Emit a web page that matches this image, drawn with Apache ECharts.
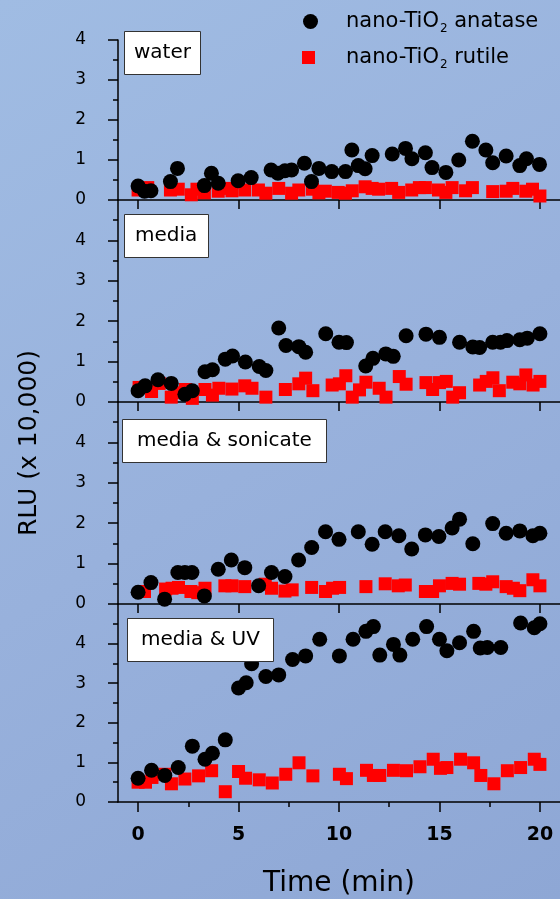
<!DOCTYPE html>
<html>
  <head>
    <meta charset="UTF-8" />
    <title>RLU vs time</title>
    <style>
      html,
      body {
        margin: 0;
        padding: 0;
        width: 100%;
        height: 100%;
        overflow: hidden;
      }
      #main {
        width: 560px;
        height: 899px;
      }
    </style>
    <script src="https://cdn.jsdelivr.net/npm/echarts@6/dist/echarts.min.js"></script>
  </head>
  <body>
    <div id="main"></div>
    <script>
      // panel names, top to bottom
      var panels = ["water", "media", "media & sonicate", "media & UV"];
      var yMax = [4, 5, 5, 5];
      var xTicks = [0, 5, 10, 15, 20];

      // [time (min), RLU x 10,000]
      var waterAnatase = [[0,0.35],[0.32,0.22],[0.64,0.23],[1.61,0.46],[1.96,0.79],[3.3,0.36],[3.65,0.67],[3.99,0.42],[4.98,0.48],[5.63,0.56],[6.62,0.75],[6.96,0.67],[7.31,0.73],[7.64,0.75],[8.28,0.92],[8.63,0.46],[9.0,0.79],[9.64,0.71],[10.32,0.71],[10.64,1.25],[10.96,0.86],[11.3,0.78],[11.65,1.11],[12.65,1.15],[13.31,1.29],[13.63,1.03],[14.3,1.18],[14.63,0.81],[15.32,0.69],[15.96,1.0],[16.64,1.47],[17.31,1.25],[17.65,0.93],[18.32,1.1],[19.0,0.86],[19.33,1.03],[19.98,0.89]];
      var waterRutile = [[0,0.25],[0.48,0.31],[1.61,0.25],[2.0,0.27],[2.65,0.13],[2.93,0.27],[3.3,0.18],[3.99,0.22],[4.35,0.29],[4.67,0.23],[5.31,0.25],[5.99,0.25],[6.36,0.17],[7.0,0.29],[7.64,0.17],[8.0,0.25],[8.68,0.27],[9.0,0.18],[9.32,0.22],[9.96,0.19],[10.32,0.17],[10.66,0.23],[11.3,0.33],[11.65,0.29],[11.97,0.27],[12.62,0.29],[12.97,0.19],[13.62,0.25],[14.0,0.31],[14.3,0.31],[14.95,0.25],[15.32,0.19],[15.63,0.31],[16.3,0.23],[16.64,0.31],[17.65,0.21],[18.32,0.22],[18.65,0.29],[19.3,0.22],[19.63,0.27],[20.0,0.1]];

      var mediaAnatase = [[0,0.28],[0.35,0.4],[0.99,0.55],[1.65,0.46],[2.33,0.19],[2.7,0.28],[3.33,0.75],[3.7,0.8],[4.34,1.06],[4.7,1.14],[5.34,0.99],[6.03,0.88],[6.36,0.78],[7.0,1.83],[7.36,1.4],[8.0,1.37],[8.34,1.23],[9.34,1.69],[10.0,1.48],[10.37,1.47],[11.33,0.89],[11.69,1.08],[12.33,1.19],[12.7,1.13],[13.34,1.64],[14.33,1.68],[15.0,1.6],[16.0,1.48],[16.66,1.36],[17.0,1.35],[17.65,1.48],[18.04,1.48],[18.36,1.52],[19.0,1.54],[19.37,1.58],[20.0,1.69]];
      var mediaRutile = [[0.05,0.36],[0.67,0.26],[1.05,0.46],[1.65,0.12],[1.97,0.23],[2.36,0.31],[2.7,0.09],[3.33,0.31],[3.7,0.17],[4.02,0.34],[4.67,0.32],[5.31,0.4],[5.67,0.34],[6.36,0.12],[7.33,0.31],[8.0,0.45],[8.34,0.59],[8.7,0.28],[9.66,0.42],[10.02,0.45],[10.34,0.65],[10.66,0.12],[11.02,0.3],[11.34,0.49],[12.0,0.34],[12.34,0.12],[13.0,0.63],[13.34,0.44],[14.33,0.48],[14.66,0.31],[15.0,0.48],[15.34,0.51],[15.66,0.12],[16.0,0.23],[17.0,0.42],[17.33,0.51],[17.66,0.6],[17.98,0.28],[18.65,0.49],[19.0,0.45],[19.3,0.67],[19.66,0.42],[20.0,0.51]];

      var sonicAnatase = [[0,0.29],[0.64,0.53],[1.32,0.12],[1.98,0.78],[2.33,0.78],[2.68,0.78],[3.3,0.2],[3.99,0.86],[4.64,1.09],[5.31,0.9],[6.0,0.45],[6.64,0.78],[7.31,0.68],[7.99,1.09],[8.64,1.4],[9.33,1.79],[10.0,1.6],[10.96,1.79],[11.65,1.48],[12.3,1.79],[12.98,1.69],[13.62,1.36],[14.3,1.71],[14.97,1.67],[15.63,1.88],[16.0,2.1],[16.66,1.49],[17.65,1.99],[18.32,1.75],[19.0,1.81],[19.65,1.69],[20.0,1.75]];
      var sonicRutile = [[0.32,0.31],[1.37,0.37],[1.69,0.39],[2.01,0.41],[2.63,0.31],[2.97,0.28],[3.33,0.39],[4.32,0.45],[4.67,0.45],[5.31,0.43],[6.33,0.49],[6.64,0.39],[7.31,0.32],[7.67,0.35],[8.64,0.41],[9.33,0.31],[9.68,0.39],[10.03,0.41],[11.34,0.43],[12.3,0.5],[12.95,0.45],[13.3,0.47],[14.3,0.31],[14.66,0.31],[15.0,0.45],[15.63,0.51],[16.0,0.49],[16.96,0.51],[17.31,0.49],[17.65,0.55],[18.32,0.43],[18.68,0.39],[19.0,0.33],[19.65,0.6],[20.0,0.45]];

      var uvAnatase = [[0,0.6],[0.67,0.8],[1.33,0.67],[2.0,0.87],[2.7,1.41],[3.33,1.08],[3.7,1.23],[4.34,1.57],[5.0,2.88],[5.38,3.01],[5.65,3.49],[6.36,3.17],[7.0,3.21],[7.69,3.6],[8.34,3.69],[9.04,4.11],[10.02,3.69],[10.7,4.11],[11.34,4.31],[11.71,4.43],[12.03,3.71],[12.71,3.98],[13.03,3.71],[13.67,4.11],[14.36,4.43],[15.0,4.11],[15.37,3.82],[16.0,4.02],[16.7,4.31],[17.03,3.89],[17.38,3.9],[18.05,3.9],[19.04,4.52],[19.72,4.4],[20.0,4.5]];
      var uvRutile = [[0,0.5],[0.37,0.5],[0.69,0.62],[1.33,0.7],[1.66,0.46],[2.33,0.58],[3.01,0.66],[3.66,0.79],[4.34,0.26],[5.0,0.77],[5.35,0.6],[6.03,0.56],[6.68,0.48],[7.35,0.7],[8.01,0.99],[8.7,0.66],[10.02,0.7],[10.37,0.59],[11.37,0.8],[11.71,0.67],[12.03,0.67],[12.71,0.8],[13.36,0.79],[14.03,0.89],[14.69,1.08],[15.05,0.85],[15.37,0.87],[16.05,1.08],[16.7,0.99],[17.06,0.67],[17.71,0.46],[18.38,0.79],[19.04,0.87],[19.72,1.08],[20.0,0.95]];

      var anatase = [waterAnatase, mediaAnatase, sonicAnatase, uvAnatase];
      var rutile = [waterRutile, mediaRutile, sonicRutile, uvRutile];

      var FONT = "DejaVu Sans";
      var nameA = "nano-TiO2 anatase",
        nameR = "nano-TiO2 rutile";

      // panel layout (px)
      var tops = [40, 200, 402, 604];
      var heights = [160, 202, 202, 202];
      var boxPos = [
        [124, 31],
        [124, 214],
        [122, 419],
        [127, 618],
      ];
      var boxPadX = [10, 11, 15, 14];

      var myChart = echarts.init(document.getElementById("main"));

      var grid = [],
        xAxis = [],
        yAxis = [],
        series = [],
        title = [];

      var black = { color: "#000", width: 1.5 };

      for (var i = 0; i < 4; i++) {
        var last = i === 3;
        grid.push({ left: 118, top: tops[i], width: 456, height: heights[i] });
        xAxis.push({
          type: "value",
          gridIndex: i,
          min: -1,
          max: 21,
          name: last ? "Time (min)" : "",
          nameLocation: "middle",
          nameGap: 68,
          nameTextStyle: { fontFamily: FONT, fontSize: 28, color: "#000" },
          axisLine: { onZero: false, lineStyle: black },
          axisTick: {
            customValues: xTicks,
            length: last ? 10 : 9,
            lineStyle: black,
          },
          minorTick: {
            show: last,
            splitNumber: 2,
            length: 5,
            lineStyle: black,
          },
          axisLabel: {
            show: last,
            customValues: xTicks,
            margin: 24,
            color: "#000",
            fontFamily: FONT,
            fontWeight: "bold",
            fontSize: 19,
          },
          splitLine: { show: false },
        });
        yAxis.push({
          type: "value",
          gridIndex: i,
          min: 0,
          max: yMax[i],
          interval: 1,
          axisLine: { show: true, onZero: false, lineStyle: black },
          axisTick: { length: 10, lineStyle: black },
          minorTick: {
            show: true,
            splitNumber: 2,
            length: 5,
            lineStyle: black,
          },
          axisLabel: {
            margin: 32,
            color: "#000",
            fontFamily: FONT,
            fontSize: 17,
            showMaxLabel: i === 0,
          },
          splitLine: { show: false },
        });
        series.push({
          name: nameR,
          type: "scatter",
          xAxisIndex: i,
          yAxisIndex: i,
          symbol: "rect",
          symbolSize: 13,
          itemStyle: { color: "#ff0000", opacity: 1 },
          z: 2,
          data: rutile[i],
        });
        series.push({
          name: nameA,
          type: "scatter",
          xAxisIndex: i,
          yAxisIndex: i,
          symbol: "circle",
          symbolSize: 15,
          itemStyle: { color: "#000", opacity: 1 },
          z: 3,
          data: anatase[i],
        });
        title.push({
          text: panels[i],
          left: boxPos[i][0],
          top: boxPos[i][1],
          backgroundColor: "#fff",
          borderColor: "#333",
          borderWidth: 1,
          padding: [12, boxPadX[i]],
          textStyle: {
            fontFamily: FONT,
            fontSize: 20,
            fontWeight: "normal",
            color: "#000",
          },
        });
      }

      var legendText = {
        fontFamily: FONT,
        fontSize: 21,
        color: "#000",
        rich: {
          sub: { fontFamily: FONT, fontSize: 12, padding: [14, 0, 0, 1] },
        },
      };
      function legendFmt(name) {
        return name.replace("TiO2", "TiO{sub|2}");
      }

      var option = {
        backgroundColor: {
          type: "linear",
          x: 0,
          y: 0,
          x2: 1,
          y2: 1,
          colorStops: [
            { offset: 0, color: "#a0bce3" },
            { offset: 0.5, color: "#98b1dc" },
            { offset: 1, color: "#8ea7d5" },
          ],
        },
        animation: false,
        title: title,
        legend: [
          {
            data: [nameA],
            left: 303,
            top: 11,
            padding: 0,
            itemWidth: 15,
            itemHeight: 15,
            formatter: legendFmt,
            textStyle: Object.assign({ padding: [0, 0, 0, 23] }, legendText),
          },
          {
            data: [nameR],
            left: 302,
            top: 47,
            padding: 0,
            itemWidth: 13,
            itemHeight: 13,
            formatter: legendFmt,
            textStyle: Object.assign({ padding: [0, 0, 0, 26] }, legendText),
          },
        ],
        grid: grid,
        xAxis: xAxis,
        yAxis: yAxis,
        series: series,
        graphic: [
          {
            type: "text",
            x: 29,
            y: 443,
            rotation: Math.PI / 2,
            style: {
              text: "RLU (x 10,000)",
              font: "25px " + FONT,
              fill: "#000",
              align: "center",
              verticalAlign: "middle",
            },
          },
        ],
      };

      myChart.setOption(option);
    </script>
  </body>
</html>
